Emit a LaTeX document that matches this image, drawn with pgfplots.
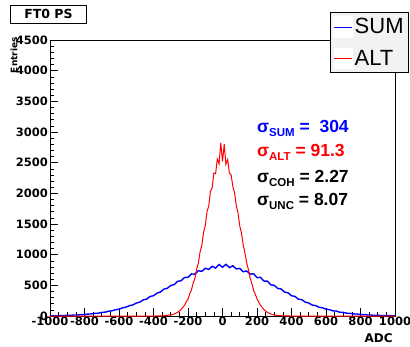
\documentclass[border=0pt]{standalone}
\usepackage{fontspec}
\setmainfont{Liberation Sans}
\newfontfamily\dejavu{DejaVu Sans}
\usepackage{pgfplots}
\pgfplotsset{compat=1.18}
\pgfplotstableread{
x y
-1000 3
-980 5
-960 4
-940 8
-920 7
-900 12
-880 11
-860 16
-840 17
-820 22
-800 25
-780 31
-760 34
-740 43
-720 46
-700 58
-680 63
-660 78
-640 85
-620 102
-600 111
-580 132
-560 145
-540 168
-520 180
-500 210
-480 226
-460 262
-440 276
-420 318
-400 330
-380 372
-360 392
-340 438
-320 452
-300 498
-280 512
-260 565
-240 575
-220 628
-200 630
-180 686
-160 682
-140 738
-120 728
-100 778
-80 760
-60 810
-40 782
-20 840
0 795
20 842
40 790
60 818
80 768
100 776
120 722
140 735
160 680
180 690
200 626
220 630
240 570
260 568
280 508
300 500
320 450
340 440
360 390
380 378
400 330
420 320
440 275
460 265
480 226
500 212
520 178
540 170
560 142
580 134
600 110
620 104
640 84
660 80
680 62
700 59
720 46
740 43
760 34
780 32
800 24
820 23
840 17
860 16
880 11
900 11
920 8
940 7
960 5
980 5
1000 4
}\sumtable
\pgfplotstableread{
x y
-1000 0
-400 0
-390 0
-380 1
-370 1
-360 2
-350 3
-340 4
-330 7
-320 9
-310 14
-300 17
-290 26
-280 33
-270 48
-260 58
-250 84
-240 104
-230 143
-220 172
-210 232
-200 276
-190 360
-180 425
-170 540
-160 615
-150 765
-140 860
-130 1045
-120 1150
-110 1360
-100 1470
-90 1700
-80 1790
-70 2030
-60 2090
-50 2330
-40 2320
-30 2560
-20 2480
-10 2820
0 2520
10 2800
20 2470
30 2550
40 2330
50 2300
60 2110
70 2010
80 1800
90 1680
100 1470
110 1350
120 1160
130 1030
140 870
150 760
160 620
170 530
180 425
190 355
200 280
210 228
220 175
230 140
240 105
250 82
260 60
270 46
280 33
290 25
300 18
310 13
320 9
330 6
340 4
350 3
360 2
370 1
380 1
390 0
400 0
1000 0
}\alttable
\begin{document}
\begin{tikzpicture}[x=1pt,y=1pt]
\useasboundingbox (0,0) rectangle (410,346);
\fill[white] (0,0) rectangle (410,346);
\begin{axis}[
  at={(50pt,30pt)}, anchor=south west, scale only axis,
  width=345pt, height=276pt,
  xmin=-1000, xmax=1000, ymin=0, ymax=4500,
  xtick={-1000,-800,...,1000}, ytick={0,500,...,4500},
  minor x tick num=3, minor y tick num=4,
  tick align=inside, xtick pos=bottom, ytick pos=left,
  major tick length=8pt, minor tick length=4pt,
  axis line style={line width=0.8pt},
  tick style={black, line width=0.6pt},
  ticklabel style={font=\dejavu\bfseries\fontsize{11.5}{12}\selectfont},
  /pgf/number format/assume math mode=true,
  /pgf/number format/1000 sep={},
  xticklabel style={inner sep=1pt},
  yticklabel style={inner sep=2pt},
  xlabel={ADC},
  xlabel style={at={(rel axis cs:0.994,-0.062)}, anchor=north east, inner sep=0pt,
    font=\dejavu\bfseries\fontsize{12}{12}\selectfont},
  clip=false,
  legend style={at={(rel axis cs:0.8116,1.1014)}, anchor=north west,
    draw=black, fill=gray!10, line width=0.6pt,
    font=\fontsize{22}{24}\selectfont, inner xsep=3pt, inner ysep=4pt,
    row sep=10pt, cells={anchor=west}},
  legend image code/.code={
    \fill[white] (0pt,-10pt) rectangle (18pt,10pt);
    \draw[#1, line width=0.6pt] (0pt,0pt) -- (18pt,0pt);},
]
\addplot[sharp plot, color=blue, line width=1.4pt] table[x=x,y=y] {\sumtable};
\addlegendentry{SUM}
\addplot[sharp plot, color=red, line width=1pt] table[x=x,y=y] {\alttable};
\addlegendentry{ALT}
\node[anchor=base west, blue, font=\bfseries\fontsize{17.5}{17}\selectfont, inner sep=0pt]
  at (axis cs:200,3000) {σ\raisebox{-4pt}{\fontsize{11.5}{11}\selectfont SUM} =\ \ 304};
\node[anchor=base west, red, font=\bfseries\fontsize{17.5}{17}\selectfont, inner sep=0pt]
  at (axis cs:200,2593) {σ\raisebox{-4pt}{\fontsize{11.5}{11}\selectfont ALT} = 91.3};
\node[anchor=base west, black, font=\bfseries\fontsize{17.5}{17}\selectfont, inner sep=0pt]
  at (axis cs:200,2169) {σ\raisebox{-4pt}{\fontsize{11.5}{11}\selectfont COH} = 2.27};
\node[anchor=base west, black, font=\bfseries\fontsize{17.5}{17}\selectfont, inner sep=0pt]
  at (axis cs:200,1794) {σ\raisebox{-4pt}{\fontsize{11.5}{11}\selectfont UNC} = 8.07};
\end{axis}
\node[rotate=90, anchor=east, inner sep=0pt, font=\dejavu\bfseries\fontsize{9}{9}\selectfont]
  at (14,309) {Entries};
\node[draw=black, line width=0.8pt, fill=white, anchor=north west, minimum width=76pt,
  minimum height=18pt, inner sep=0pt, font=\dejavu\bfseries\fontsize{12.5}{13}\selectfont]
  at (10,341) {FT0 PS};
\end{tikzpicture}
\end{document}
